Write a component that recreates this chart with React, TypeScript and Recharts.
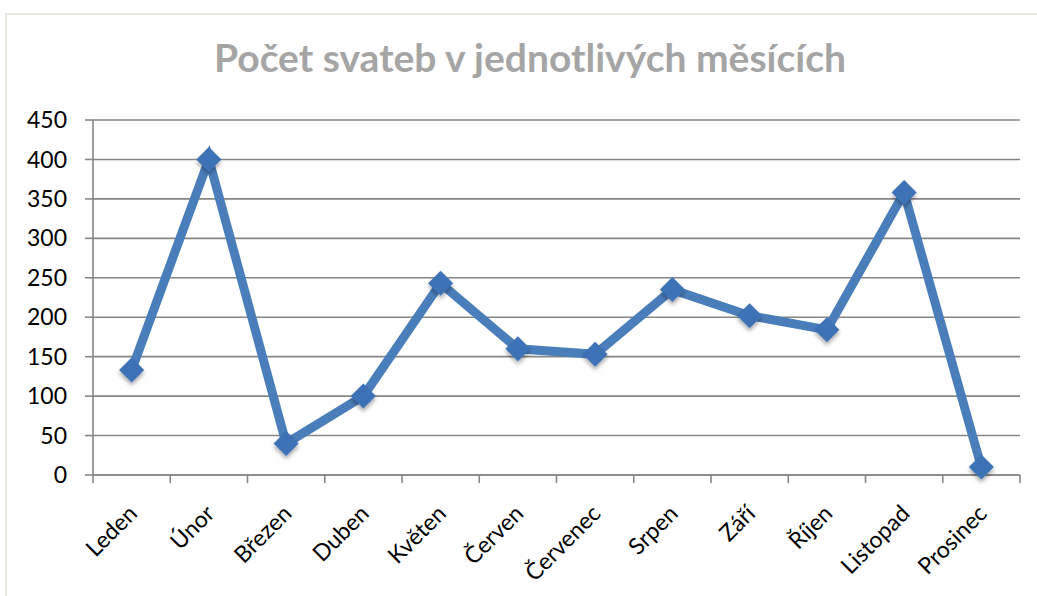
import { LineChart, Line, XAxis, YAxis, CartesianGrid } from 'recharts'

const months = ['Leden', 'Únor', 'Březen', 'Duben', 'Květen', 'Červen', 'Červenec', 'Srpen', 'Září', 'Říjen', 'Listopad', 'Prosinec']
const weddings = [133, 400, 40, 100, 243, 160, 153, 235, 202, 184, 358, 10]
const yTicks = [0, 50, 100, 150, 200, 250, 300, 350, 400, 450]

// category i sits in the middle of its slot, slot edges carry the tick marks
const data = months.map((m, i) => ({ month: m, pos: i + 0.5, count: weddings[i] }))
const labelTicks = months.map((_, i) => i + 0.5)
const edgeTicks = months.map((_, i) => i).concat(months.length)

const FONT = 'Lato, Carlito, Calibri, sans-serif'
const GRID = '#868686'
const LINE = '#4a7ebb'

const Diamond = (props: any) => {
  const { cx, cy, index } = props
  if (cx == null || cy == null) return null
  const r = 12.5
  return (
    <polygon key={index} points={`${cx},${cy - r} ${cx + r},${cy} ${cx},${cy + r} ${cx - r},${cy}`}
      fill="#3c72b6" filter="url(#mkShadow)" />
  )
}

const MonthTick = (props: any) => {
  const { x, y, payload } = props
  const name = months[Math.floor(payload.value)]
  const tx = x + 7
  const ty = y + 24
  return (
    <text x={tx} y={ty} transform={`rotate(-45 ${tx} ${ty})`} textAnchor="end"
      fontFamily={FONT} fontSize={23} fill="#000">
      {name}
    </text>
  )
}

export default function App() {
  return (
    <div style={{ position: 'absolute', left: 0, top: 0, width: 1037, height: 596, background: '#fff', overflow: 'hidden' }}>
      <div style={{ position: 'absolute', left: 5, top: 13, width: 1100, height: 700, border: '2px solid #ebe9df' }} />
      <div style={{
        position: 'absolute', left: 0, width: 1060, top: 38, textAlign: 'center', lineHeight: 1,
        fontFamily: FONT, fontWeight: 700, fontSize: 39, color: '#a5a5a5',
      }}>
        Počet svateb v jednotlivých měsících
      </div>
      <div style={{ position: 'absolute', left: 0, top: 0 }}>
        <LineChart width={1037} height={596} data={data} margin={{ top: 120, right: 17, bottom: 0, left: 0 }}>
          <defs>
            <filter id="mkShadow" x="-50%" y="-50%" width="200%" height="200%">
              <feDropShadow dx="0" dy="3" stdDeviation="2" floodColor="#000" floodOpacity="0.35" />
            </filter>
          </defs>
          <CartesianGrid vertical={false} stroke={GRID} strokeWidth={1.6} />
          <XAxis xAxisId="edges" type="number" dataKey="pos" domain={[0, 12]} allowDataOverflow ticks={edgeTicks} height={8}
            tickFormatter={() => ''} stroke={GRID} strokeWidth={1.6} tickSize={8} interval={0} />
          <XAxis xAxisId="labels" type="number" dataKey="pos" domain={[0, 12]} allowDataOverflow ticks={labelTicks} height={113}
            axisLine={false} tickLine={false} tick={<MonthTick />} interval={0} />
          <YAxis domain={[0, 450]} ticks={yTicks} width={93} interval={0} stroke={GRID} strokeWidth={1.6}
            tickSize={8} tickMargin={18} tick={{ fontFamily: FONT, fontSize: 23, fill: '#000' }} />
          <Line xAxisId="labels" dataKey="count" stroke={LINE} strokeWidth={9} strokeLinejoin="miter"
            dot={<Diamond />} activeDot={false} isAnimationActive={false} />
        </LineChart>
      </div>
    </div>
  )
}
